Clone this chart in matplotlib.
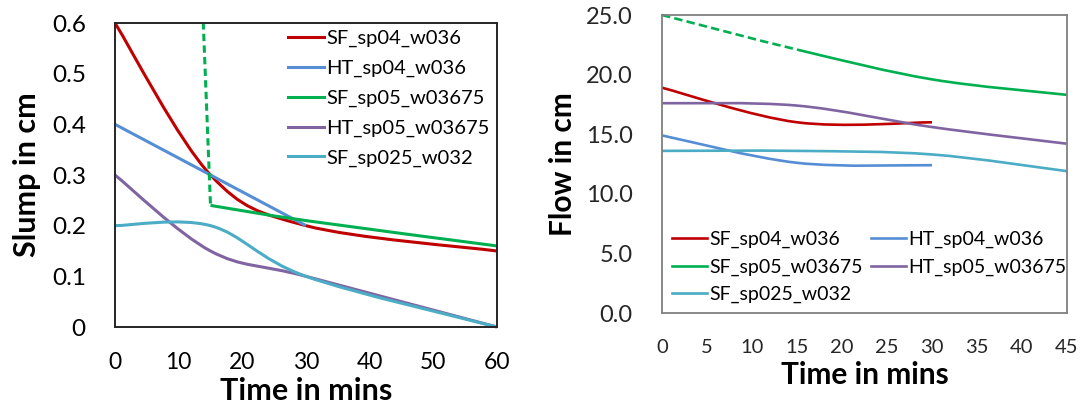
import numpy as np
import matplotlib
matplotlib.use("Agg")
import matplotlib.pyplot as plt
from matplotlib.path import Path
from matplotlib.patches import PathPatch
from matplotlib.lines import Line2D

plt.rcParams['font.family'] = ['Lato', 'DejaVu Sans']

# Slump readings (cm) against time (min)
slump_time = [0, 15, 30, 60]
slump_sf_sp04 = [0.60, 0.30, 0.20, 0.15]
slump_ht_sp04 = [0.40, 0.30, 0.20]
slump_sf_sp05 = [5.0, 0.24, 0.21, 0.16]   # first reading is off the scale
slump_ht_sp05 = [0.30, 0.15, 0.10, 0.00]
slump_sf_sp025 = [0.20, 0.20, 0.10, 0.00]

# Flow readings (cm) against time (min)
flow_time = [0, 15, 30, 45]
flow_sf_sp04 = [18.9, 16.0, 16.0]
flow_ht_sp04 = [14.9, 12.6, 12.4]
flow_sf_sp05 = [25.0, 22.1, 19.6, 18.3]
flow_ht_sp05 = [17.6, 17.4, 15.6, 14.2]
flow_sf_sp025 = [13.6, 13.6, 13.3, 11.9]

names = ['SF_sp04_w036', 'HT_sp04_w036', 'SF_sp05_w03675', 'HT_sp05_w03675', 'SF_sp025_w032']
colors = ['#C00000', '#558ED5', '#00B050', '#8064A2', '#4BACC6']


def smooth_path(x, y, first=0, last=None):
    # spreadsheet-style smoothed line: cubic bezier through the points
    pts = np.column_stack([x, y]).astype(float)
    n = len(pts)
    if last is None:
        last = n - 1
    verts = [pts[first]]
    codes = [Path.MOVETO]
    for i in range(first, last):
        p0 = pts[max(i - 1, 0)]
        p1 = pts[i]
        p2 = pts[i + 1]
        p3 = pts[min(i + 2, n - 1)]
        verts += [p1 + (p2 - p0) / 6, p2 - (p3 - p1) / 6, p2]
        codes += [Path.CURVE4] * 3
    return Path(verts, codes)


def draw_smooth(ax, x, y, color, lw, first=0, last=None, ls='-', clip=False):
    patch = PathPatch(smooth_path(x, y, first, last), facecolor='none', edgecolor=color,
                      lw=lw, linestyle=ls, capstyle='butt', joinstyle='round',
                      transform=ax.transData, clip_on=clip)
    ax.add_patch(patch)


fig = plt.figure(figsize=(10.9, 4.07), dpi=100)

# ---- slump ----
ax1 = fig.add_axes([115 / 1090, 1 - 327 / 407, 382 / 1090, 304 / 407])
lw1 = 2.2
draw_smooth(ax1, slump_time, slump_sf_sp04, colors[0], lw1)
draw_smooth(ax1, slump_time[:3], slump_ht_sp04, colors[1], lw1)
ax1.plot(slump_time[:2], slump_sf_sp05[:2], color=colors[2], lw=lw1, dashes=(2.4, 1.4))
draw_smooth(ax1, slump_time[1:], slump_sf_sp05[1:], colors[2], lw1)
draw_smooth(ax1, slump_time, slump_ht_sp05, colors[3], lw1)
draw_smooth(ax1, slump_time, slump_sf_sp025, colors[4], lw1)

ax1.set_xlim(0, 60)
ax1.set_ylim(0, 0.6)
ax1.set_xticks(range(0, 61, 10))
ax1.set_yticks([0, 0.1, 0.2, 0.3, 0.4, 0.5, 0.6])
ax1.set_yticklabels(['0', '0.1', '0.2', '0.3', '0.4', '0.5', '0.6'])
ax1.tick_params(axis='y', length=0, pad=21, labelsize=17.5)
ax1.tick_params(axis='x', length=0, pad=18, labelsize=16.5)
for s in ax1.spines.values():
    s.set_color('#262626')
    s.set_linewidth(1.4)
ax1.set_xlabel('Time in mins', fontsize=22, fontweight='bold', va='center')
ax1.xaxis.set_label_coords(0.5, (327 - 391) / 304)
ax1.set_ylabel('Slump in cm', fontsize=22, fontweight='bold', va='center')
ax1.yaxis.set_label_coords((27 - 115) / 382, 0.5)

handles1 = [Line2D([], [], color=c, lw=lw1) for c in colors]
ax1.legend(handles1, names, loc='upper left', bbox_to_anchor=(288 / 1090, 1 - 30 / 407),
           bbox_transform=fig.transFigure, frameon=False, fontsize=14.5,
           handlelength=1.8, handletextpad=0.1, labelspacing=0.62,
           borderpad=0, borderaxespad=0)

# ---- flow ----
ax2 = fig.add_axes([662 / 1090, 1 - 313 / 407, 405 / 1090, 298 / 407])
lw2 = 1.9
draw_smooth(ax2, flow_time[:3], flow_sf_sp04, colors[0], lw2)
draw_smooth(ax2, flow_time[:3], flow_ht_sp04, colors[1], lw2)
draw_smooth(ax2, flow_time, flow_sf_sp05, colors[2], lw2, first=0, last=1, ls=(0, (3.2, 1.6)))
draw_smooth(ax2, flow_time, flow_sf_sp05, colors[2], lw2, first=1)
draw_smooth(ax2, flow_time, flow_ht_sp05, colors[3], lw2)
draw_smooth(ax2, flow_time, flow_sf_sp025, colors[4], lw2)

ax2.set_xlim(0, 45)
ax2.set_ylim(0, 25)
ax2.set_xticks(range(0, 46, 5))
ax2.set_yticks([0, 5, 10, 15, 20, 25])
ax2.set_yticklabels(['0.0', '5.0', '10.0', '15.0', '20.0', '25.0'])
ax2.tick_params(axis='y', length=0, pad=21, labelsize=17, labelcolor='#262626')
ax2.tick_params(axis='x', length=0, pad=19, labelsize=14.5, labelcolor='#262626')
for s in ax2.spines.values():
    s.set_color('#808080')
    s.set_linewidth(1.3)
ax2.set_xlabel('Time in mins', fontsize=21.5, fontweight='bold', va='center')
ax2.xaxis.set_label_coords(0.5, (313 - 375) / 298)
ax2.set_ylabel('Flow in cm', fontsize=21.5, fontweight='bold', va='center')
ax2.yaxis.set_label_coords((563 - 662) / 405, 0.5)

# row-wise order in two columns
order = [0, 2, 4, 1, 3]
handles2 = [Line2D([], [], color=colors[i], lw=lw2) for i in order]
ax2.legend(handles2, [names[i] for i in order], ncol=2, loc='upper left',
           bbox_to_anchor=(672 / 1090, 1 - 231 / 407), bbox_transform=fig.transFigure,
           frameon=False, fontsize=14, handlelength=1.8, handletextpad=0.1,
           labelspacing=0.52, columnspacing=0.45, borderpad=0, borderaxespad=0)

fig.savefig('out.png', dpi=100)
